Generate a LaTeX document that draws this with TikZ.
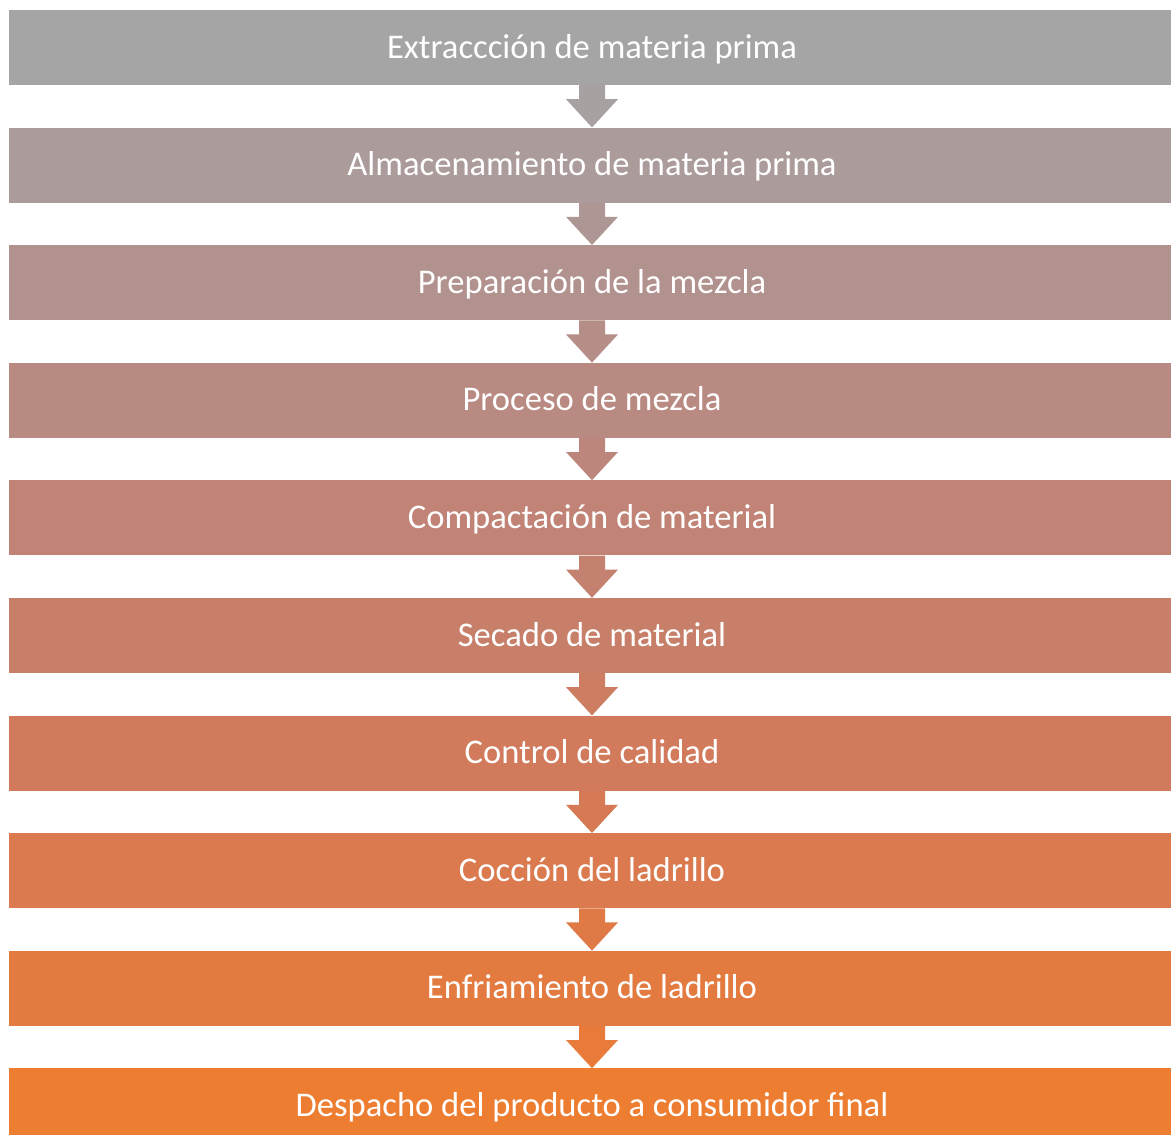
\documentclass[tikz,border=0pt]{standalone}
\usepackage{fontspec}
\setmainfont{Carlito}
\definecolor{c0}{RGB}{165,165,165}
\definecolor{c1}{RGB}{171,155,154}
\definecolor{c2}{RGB}{178,146,142}
\definecolor{c3}{RGB}{185,138,130}
\definecolor{c4}{RGB}{192,131,118}
\definecolor{c5}{RGB}{200,127,105}
\definecolor{c6}{RGB}{209,123,92}
\definecolor{c7}{RGB}{218,122,78}
\definecolor{c8}{RGB}{227,122,64}
\definecolor{c9}{RGB}{237,125,49}
\tikzset{
  stepbox/.style={rectangle, inner sep=0pt, minimum width=1166pt, minimum height=75pt,
    text=white, font=\fontsize{34.6}{40}\selectfont, text height=23pt, text depth=2pt},
}
\newcommand{\flowarrow}[3]{%
  \fill[#3] ([xshift=-13pt]#1.south) -- ([xshift=-13pt,yshift=-14pt]#1.south)
    -- ([xshift=-26pt,yshift=-14pt]#1.south) -- (#2.north)
    -- ([xshift=26pt,yshift=-14pt]#1.south) -- ([xshift=13pt,yshift=-14pt]#1.south)
    -- ([xshift=13pt]#1.south) -- cycle;}
\begin{document}
\begin{tikzpicture}[x=1pt,y=-1pt]
\useasboundingbox (0,0) rectangle (1171,1135);
\clip (0,0) rectangle (1171,1135);
\node[stepbox, fill=c0] (b0) at (592,47.5)   {Extraccción de materia prima};
\node[stepbox, fill=c1] (b1) at (592,165.1)  {Almacenamiento de materia prima};
\node[stepbox, fill=c2] (b2) at (592,282.7)  {Preparación de la mezcla};
\node[stepbox, fill=c3] (b3) at (592,400.3)  {Proceso de mezcla};
\node[stepbox, fill=c4] (b4) at (592,517.9)  {Compactación de material};
\node[stepbox, fill=c5] (b5) at (592,635.5)  {Secado de material};
\node[stepbox, fill=c6] (b6) at (592,753.1)  {Control de calidad};
\node[stepbox, fill=c7] (b7) at (592,870.7)  {Cocción del ladrillo};
\node[stepbox, fill=c8] (b8) at (592,988.3)  {Enfriamiento de ladrillo};
\node[stepbox, fill=c9] (b9) at (592,1105.9) {Despacho del producto a consumidor final};
\flowarrow{b0}{b1}{c0!60!c1}
\flowarrow{b1}{b2}{c1!50!c2}
\flowarrow{b2}{b3}{c2!50!c3}
\flowarrow{b3}{b4}{c3!50!c4}
\flowarrow{b4}{b5}{c4!50!c5}
\flowarrow{b5}{b6}{c5!50!c6}
\flowarrow{b6}{b7}{c6!50!c7}
\flowarrow{b7}{b8}{c7!50!c8}
\flowarrow{b8}{b9}{c8!50!c9}
\end{tikzpicture}
\end{document}
